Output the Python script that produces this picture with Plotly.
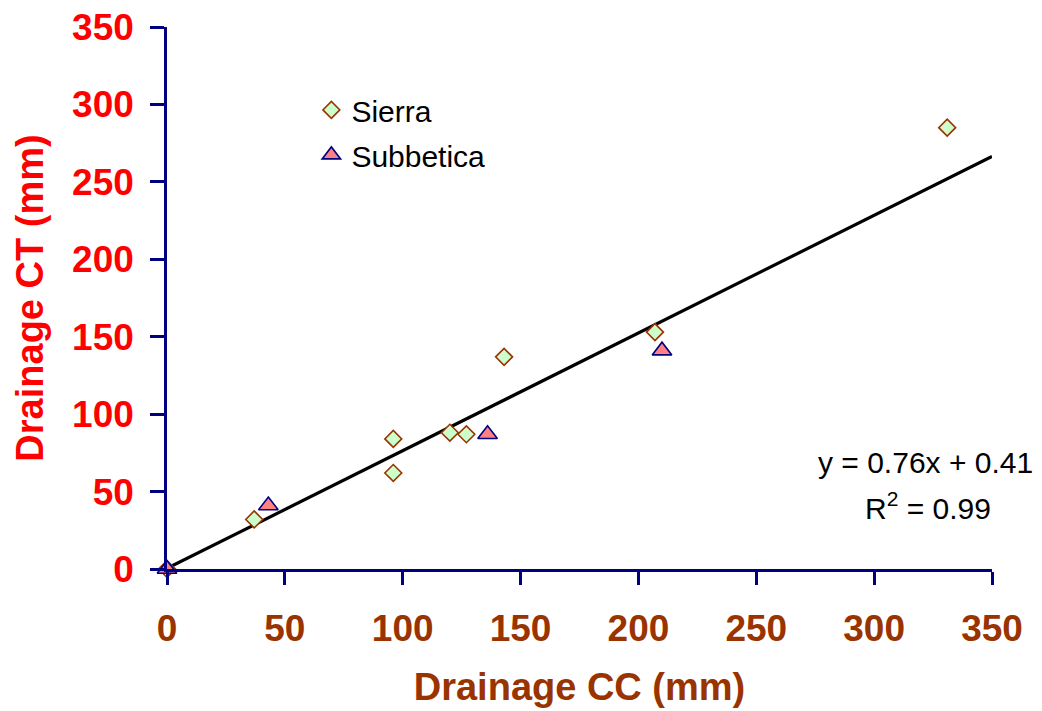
import plotly.graph_objects as go

# Data
sierra_x = [0, 37, 96, 96, 120, 127, 143, 207, 331]
sierra_y = [0, 32, 62, 84, 88, 87, 137, 153, 285]
subbetica_x = [0, 43, 136, 210]
subbetica_y = [0, 41, 87, 141]
trend_slope = 0.76
trend_intercept = 0.41
trend_x = [0, 350]
tick_vals = [0, 50, 100, 150, 200, 250, 300, 350]

FONT = "Liberation Sans, Arial, sans-serif"
NAVY = "#000080"

fig = go.Figure()
fig.add_trace(go.Scatter(
    x=trend_x, y=[trend_slope * v + trend_intercept for v in trend_x],
    mode="lines", line=dict(color="black", width=3.2), showlegend=False,
    hoverinfo="skip"))
fig.add_trace(go.Scatter(
    x=sierra_x, y=sierra_y, mode="markers", name="Sierra", legendgroup="a",
    marker=dict(symbol="diamond", size=13, color="#CCFFCC",
                line=dict(color="#993300", width=1.6)),
    cliponaxis=False))
fig.add_trace(go.Scatter(
    x=subbetica_x, y=subbetica_y, mode="markers", name="Subbetica", legendgroup="b",
    marker=dict(symbol="triangle-up", size=17, color="#FF8080",
                line=dict(color=NAVY, width=1.6)),
    cliponaxis=False))

fig.add_annotation(
    x=0.919, y=0.1956, xref="paper", yref="paper", xanchor="center", yanchor="middle",
    text="y = 0.76x + 0.41", showarrow=False,
    font=dict(family=FONT, size=30, color="black"))
fig.add_annotation(
    x=0.922, y=0.116, xref="paper", yref="paper", xanchor="center", yanchor="middle",
    text="R<sup>2</sup> = 0.99", showarrow=False,
    font=dict(family=FONT, size=30, color="black"))

# the page body adds an 8px offset, so margins are shifted to compensate
fig.update_layout(
    width=1042, height=711,
    margin=dict(l=159, r=58, t=19, b=150),
    plot_bgcolor="white", paper_bgcolor="white",
    font=dict(family=FONT),
    legend=dict(x=0.175, y=0.895, xanchor="left", yanchor="top",
                bgcolor="rgba(0,0,0,0)", font=dict(family=FONT, size=30, color="black"),
                tracegroupgap=3),
    xaxis=dict(range=[0, 350], tickvals=tick_vals, showgrid=False, zeroline=False,
               showline=True, linecolor=NAVY, linewidth=2.5, automargin=False,
               ticks="outside", ticklen=13, tickwidth=2.5, tickcolor=NAVY,
               ticklabelstandoff=12, ticklabeloverflow="allow",
               tickfont=dict(family=FONT, size=37, color="#993300", weight="bold"),
               title=dict(text="Drainage CC (mm)", standoff=26,
                          font=dict(family=FONT, size=38, color="#993300", weight="bold"))),
    yaxis=dict(range=[0, 350], tickvals=tick_vals, showgrid=False, zeroline=False,
               showline=True, linecolor=NAVY, linewidth=2.5, automargin=False,
               ticks="outside", ticklen=14, tickwidth=2.5, tickcolor=NAVY,
               ticklabelstandoff=9, ticklabeloverflow="allow",
               tickfont=dict(family=FONT, size=37, color="#FF0000", weight="bold"),
               title=dict(text="Drainage CT (mm)", standoff=17,
                          font=dict(family=FONT, size=38, color="#FF0000", weight="bold"))),
)

fig.write_html("out.html")
